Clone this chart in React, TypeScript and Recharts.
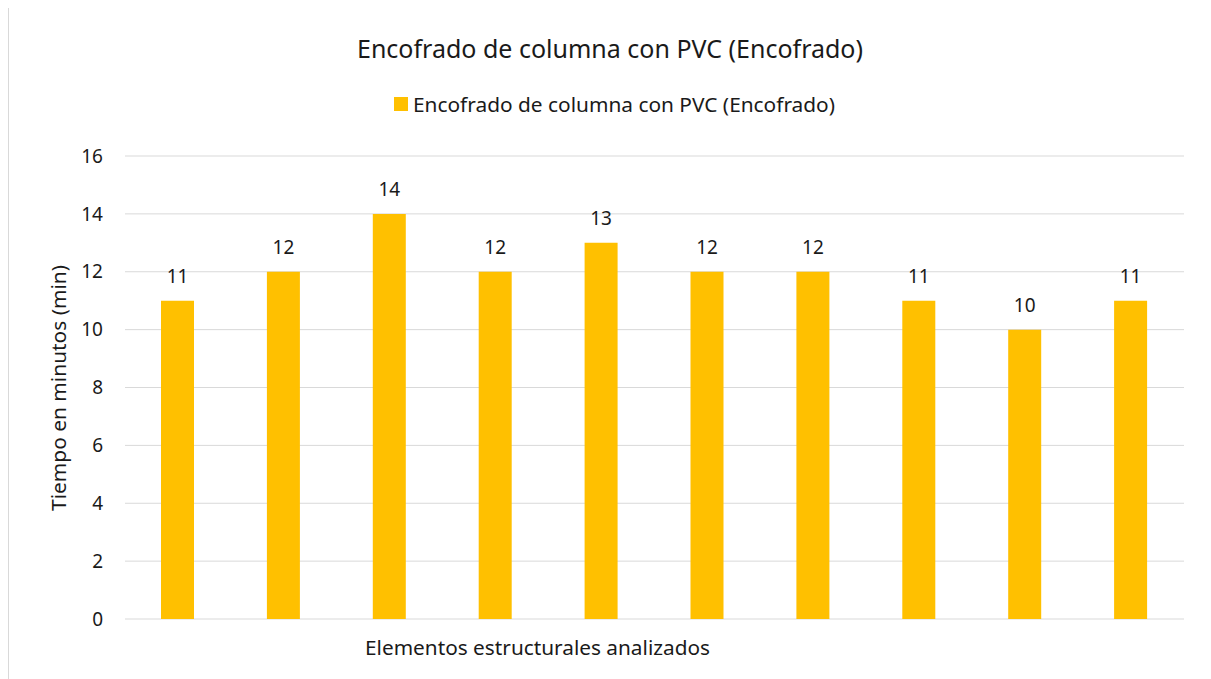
import React from 'react';
import { BarChart, Bar, XAxis, YAxis, CartesianGrid, LabelList } from 'recharts';

const elementos = ['E1', 'E2', 'E3', 'E4', 'E5', 'E6', 'E7', 'E8', 'E9', 'E10'];
const tiempos = [11, 12, 14, 12, 13, 12, 12, 11, 10, 11];
const yTicks = [0, 2, 4, 6, 8, 10, 12, 14, 16];

const titulo = 'Encofrado de columna con PVC (Encofrado)';
const serie = 'Encofrado de columna con PVC (Encofrado)';
const ejeX = 'Elementos estructurales analizados';
const ejeY = 'Tiempo en minutos (min)';

const data = elementos.map((e, i) => ({ name: e, value: tiempos[i] }));

const FONT = '"Noto Sans", sans-serif';
const TEXT = '#1a1a1a';
const BAR = '#FFC000';

export default function App() {
  return (
    <div
      style={{
        position: 'relative',
        width: 1204,
        height: 680,
        marginTop: -2,
        border: '1px solid #d9d9d9',
        boxSizing: 'border-box',
        background: '#fff',
        fontFamily: FONT,
      }}
    >
      <BarChart
        width={1202}
        height={678}
        data={data}
        margin={{ top: 149, right: 27, bottom: 66, left: 56 }}
        barSize={33}
      >
        <CartesianGrid vertical={false} stroke="#d9d9d9" strokeWidth={1} />
        <XAxis dataKey="name" hide />
        <YAxis
          width={60}
          domain={[0, 16]}
          ticks={yTicks}
          interval={0}
          axisLine={false}
          tickLine={false}
          tickSize={0}
          tickMargin={22}
          tick={{ fill: TEXT, fontSize: 19, fontFamily: FONT }}
        />
        <Bar dataKey="value" fill={BAR} isAnimationActive={false}>
          <LabelList
            dataKey="value"
            position="top"
            offset={18}
            fill={TEXT}
            fontSize={19}
            fontFamily={FONT}
          />
        </Bar>
      </BarChart>
      <svg
        width={1202}
        height={678}
        style={{ position: 'absolute', left: 0, top: 0, pointerEvents: 'none' }}
        fontFamily={FONT}
        fill={TEXT}
      >
        <text x={348} y={51} fontSize={25} textLength={506} lengthAdjust="spacingAndGlyphs">
          {titulo}
        </text>
        <rect x={385} y={90} width={14} height={14} fill={BAR} />
        <text x={404} y={105} fontSize={19} textLength={422} lengthAdjust="spacingAndGlyphs">
          {serie}
        </text>
        <text x={356} y={648} fontSize={19} textLength={345} lengthAdjust="spacingAndGlyphs">
          {ejeX}
        </text>
        <text
          x={0}
          y={0}
          fontSize={19}
          textAnchor="middle"
          textLength={246}
          lengthAdjust="spacingAndGlyphs"
          transform="translate(57 381) rotate(-90)"
        >
          {ejeY}
        </text>
      </svg>
    </div>
  );
}
